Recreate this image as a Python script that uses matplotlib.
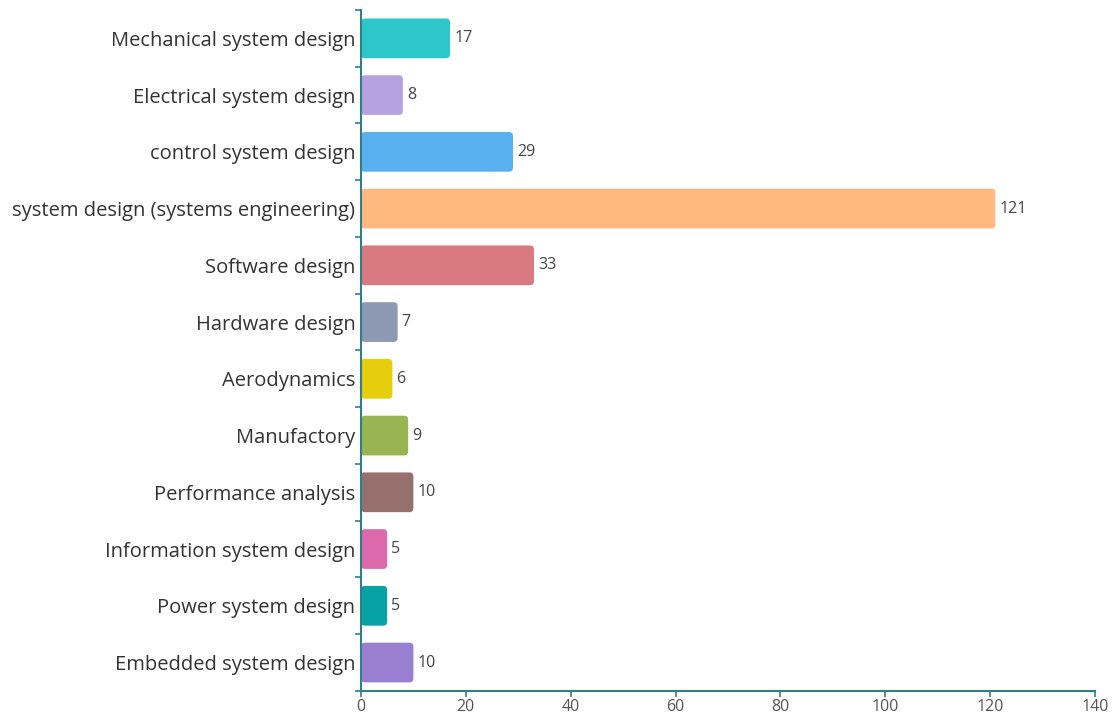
import matplotlib
matplotlib.use("Agg")
import matplotlib.pyplot as plt
from matplotlib.patches import FancyBboxPatch
import numpy as np

# categories top to bottom, with their counts
categories = [
    "Mechanical system design",
    "Electrical system design",
    "control system design",
    "system design (systems engineering)",
    "Software design",
    "Hardware design",
    "Aerodynamics",
    "Manufactory",
    "Performance analysis",
    "Information system design",
    "Power system design",
    "Embedded system design",
]
counts = [17, 8, 29, 121, 33, 7, 6, 9, 10, 5, 5, 10]
bar_colors = [
    "#2ec7c9", "#b6a2de", "#5ab1ef", "#ffb980", "#d87a80", "#8d98b3",
    "#e5cf0d", "#97b552", "#95706d", "#dc69aa", "#07a2a4", "#9a7fd1",
]
x_ticks = [0, 20, 40, 60, 80, 100, 120, 140]

AXIS_COLOR = "#2f7f88"
plt.rcParams["font.family"] = ["Open Sans", "DejaVu Sans"]

fig = plt.figure(figsize=(11.13, 7.13), dpi=100)
ax = fig.add_axes([0.3243, 0.031, 0.6595, 0.955])

n = len(categories)
ax.set_xlim(0, 140)
ax.set_ylim(n - 0.5, -0.5)

# pixel sizes of one data unit, used to keep the corner radius round
px_x = fig.get_figwidth() * fig.dpi * 0.6595 / 140
px_y = fig.get_figheight() * fig.dpi * 0.955 / n
radius = 4.0 / px_x
bar_h = 0.7

for i, (val, col) in enumerate(zip(counts, bar_colors)):
    patch = FancyBboxPatch(
        (0, i - bar_h / 2), val, bar_h,
        boxstyle=f"round,pad=0,rounding_size={radius}",
        mutation_aspect=px_x / px_y,
        facecolor=col, edgecolor="none", zorder=2,
    )
    ax.add_patch(patch)
    ax.text(val + 4.0 / px_x, i, str(val), va="center", ha="left",
            fontsize=11.5, color="#444444")

ax.set_yticks(range(n))
ax.set_yticklabels(categories, fontsize=14.5, color="#333333")
ax.tick_params(axis="y", which="major", length=0, pad=4)
ax.set_yticks(np.arange(-0.5, n, 1.0), minor=True)
ax.tick_params(axis="y", which="minor", length=4, width=1.2, color=AXIS_COLOR)

ax.set_xticks(x_ticks)
ax.set_xticklabels([str(t) for t in x_ticks], fontsize=11.5, color="#555555")
ax.tick_params(axis="x", length=4, width=1.2, color=AXIS_COLOR, pad=2)

for side in ["top", "right"]:
    ax.spines[side].set_visible(False)
for side in ["left", "bottom"]:
    ax.spines[side].set_color(AXIS_COLOR)
    ax.spines[side].set_linewidth(1.5)

fig.savefig("out.png", dpi=100)
